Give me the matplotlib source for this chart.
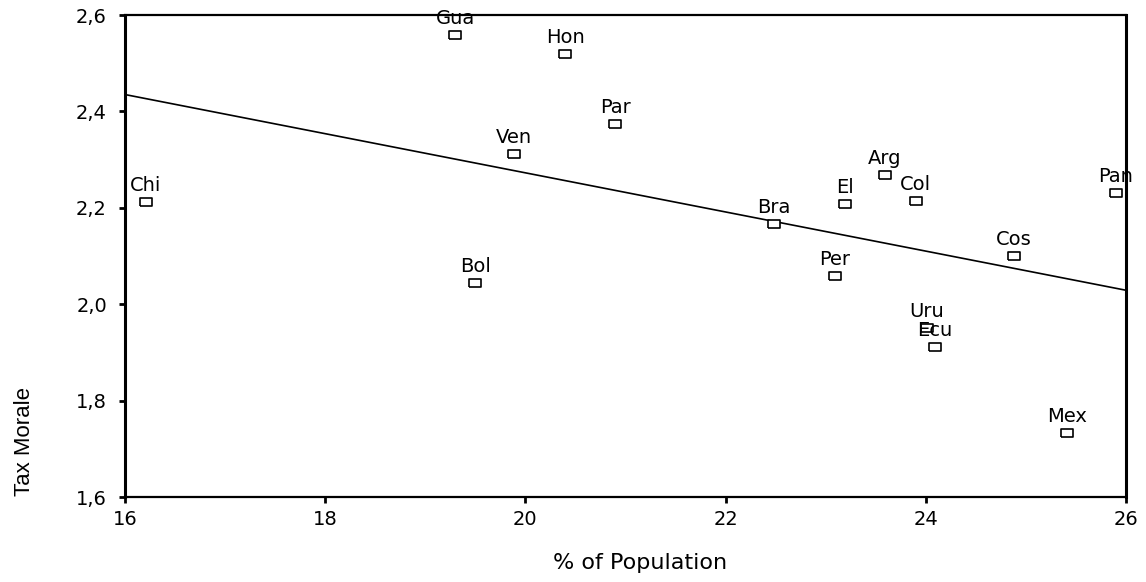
import matplotlib
matplotlib.use("Agg")
import matplotlib.pyplot as plt
from matplotlib.ticker import FuncFormatter

# country scatter: % of population vs tax morale
countries = ["Chi", "Gua", "Hon", "Par", "Ven", "Bol", "Bra", "Arg", "El", "Col",
             "Pan", "Cos", "Per", "Uru", "Ecu", "Mex"]
pop_pct = [16.21, 19.30, 20.40, 20.90, 19.89, 19.50, 22.48, 23.59, 23.19, 23.90,
           25.90, 24.88, 23.09, 24.01, 24.09, 25.41]
tax_morale = [2.212, 2.558, 2.519, 2.374, 2.312, 2.045, 2.166, 2.268, 2.208, 2.214,
              2.230, 2.100, 2.058, 1.951, 1.912, 1.733]

# fitted regression line
fit_x = [16, 26]
fit_y = [2.435, 2.029]

x_ticks = [16, 18, 20, 22, 24, 26]
y_ticks = [1.6, 1.8, 2.0, 2.2, 2.4, 2.6]

fig = plt.figure(figsize=(11.46, 5.82), dpi=100)
ax = fig.add_axes([0.1091, 0.1460, 0.8734, 0.8282])

ax.plot(fit_x, fit_y, color="black", lw=1.2, zorder=2)

rect = [(-1.5, -1), (1.5, -1), (1.5, 1), (-1.5, 1), (-1.5, -1)]
ax.plot(pop_pct, tax_morale, ls="none", marker=rect, markersize=8,
        markerfacecolor="white", markeredgecolor="black", markeredgewidth=1.2, zorder=3)

for name, x, y in zip(countries, pop_pct, tax_morale):
    ax.annotate(name, (x, y), xytext=(0, 5), textcoords="offset points",
                ha="center", va="bottom", fontsize=14, family="DejaVu Sans",
                clip_on=False, zorder=4)

ax.set_xlim(16, 26)
ax.set_ylim(1.6, 2.6)
ax.set_xticks(x_ticks)
ax.set_yticks(y_ticks)
ax.yaxis.set_major_formatter(FuncFormatter(lambda v, p: f"{v:.1f}".replace(".", ",")))
ax.tick_params(direction="out", length=4, width=2, labelsize=14)
ax.tick_params(axis="y", pad=9)
ax.tick_params(axis="x", pad=5)
for lab in ax.get_xticklabels() + ax.get_yticklabels():
    lab.set_family("DejaVu Sans")

ax.spines["left"].set_linewidth(2.2)
ax.spines["right"].set_linewidth(2.2)
ax.spines["top"].set_linewidth(1.6)
ax.spines["bottom"].set_linewidth(1.6)

ax.set_xlabel("% of Population", fontsize=16, family="DejaVu Sans")
ax.set_ylabel("Tax Morale", fontsize=16, family="Liberation Sans")
ax.yaxis.set_label_coords(-0.09, 0.116)
ax.xaxis.set_label_coords(0.515, -0.116)

fig.savefig("out.png", dpi=100)
